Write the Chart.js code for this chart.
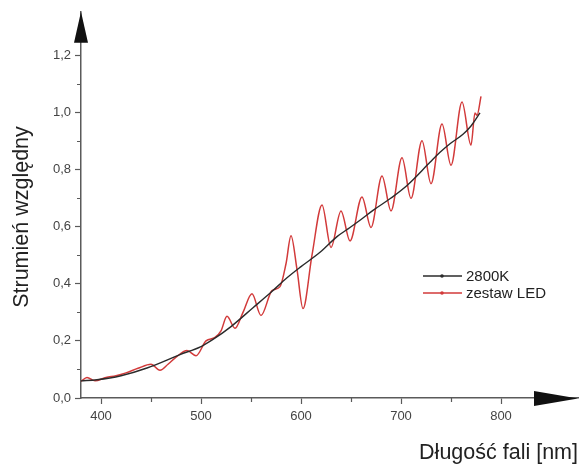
<!DOCTYPE html>
<html>
<head>
<meta charset="utf-8">
<script src="https://cdn.jsdelivr.net/npm/chart.js"></script>
<style>
  html, body { margin: 0; padding: 0; background: #fff; }
  #wrap { width: 580px; height: 466px; position: relative; }
</style>
</head>
<body>
<div id="wrap"><canvas id="chart"></canvas></div>
<script>
  // 2800K reference curve
  const blackNm   = [380, 396, 420, 446, 479, 500, 512, 530, 552, 570, 586, 600, 619, 636, 649, 660, 672, 690, 706, 729, 739, 749, 762, 770, 779];
  const blackFlux = [0.060, 0.064, 0.078, 0.105, 0.152, 0.180, 0.205, 0.250, 0.316, 0.370, 0.421, 0.460, 0.510, 0.565, 0.597, 0.625, 0.657, 0.700, 0.744, 0.825, 0.860, 0.890, 0.923, 0.952, 0.998];

  // LED set
  const ledNm   = [380, 386, 394, 405, 415, 425, 437, 450, 459, 467, 476, 486, 495, 505, 514, 520, 526, 534, 542, 551, 560, 571, 579, 585, 590, 596, 602, 611, 621, 630, 640, 649, 661, 670, 681, 690, 701, 710, 721, 730, 741, 750, 761, 770, 774, 776, 780];
  const ledFlux = [0.058, 0.072, 0.060, 0.072, 0.078, 0.088, 0.104, 0.118, 0.097, 0.118, 0.146, 0.166, 0.148, 0.200, 0.212, 0.235, 0.286, 0.244, 0.300, 0.365, 0.289, 0.376, 0.390, 0.470, 0.568, 0.450, 0.313, 0.500, 0.676, 0.527, 0.655, 0.550, 0.704, 0.597, 0.777, 0.655, 0.841, 0.699, 0.901, 0.750, 0.959, 0.815, 1.036, 0.885, 0.998, 0.990, 1.056];

  const xTicks = [400, 500, 600, 700, 800];
  const xMinor = [450, 550, 650, 750];
  const yTicks = [0, 0.2, 0.4, 0.6, 0.8, 1.0, 1.2];
  const yMinor = [0.1, 0.3, 0.5, 0.7, 0.9, 1.1];

  const seriesLabels = ['2800K', 'zestaw LED'];
  const AXIS = '#5a5a5a';
  const TICK_FONT = { family: 'Liberation Sans, Arial, sans-serif', size: 13 };

  const toPoints = (xs, ys) => xs.map((x, i) => ({ x: x, y: ys[i] }));

  const axisExtras = {
    id: 'axisExtras',
    afterDraw(chart) {
      const { ctx, chartArea: { left, right, top, bottom } } = chart;
      const xs = chart.scales.x, ys = chart.scales.y;
      ctx.save();
      // minor ticks
      ctx.strokeStyle = AXIS;
      ctx.lineWidth = 1.2;
      ctx.beginPath();
      xMinor.forEach(v => { const px = Math.round(xs.getPixelForValue(v)) + 0.5; ctx.moveTo(px, bottom); ctx.lineTo(px, bottom + 4); });
      yMinor.forEach(v => { const py = Math.round(ys.getPixelForValue(v)) + 0.5; ctx.moveTo(left, py); ctx.lineTo(left - 4, py); });
      ctx.stroke();
      // arrows
      ctx.fillStyle = '#111';
      ctx.beginPath();
      ctx.moveTo(right, bottom + 0.5); ctx.lineTo(right - 44, bottom - 7); ctx.lineTo(right - 44, bottom + 8); ctx.closePath();
      ctx.fill();
      ctx.beginPath();
      ctx.moveTo(left, top); ctx.lineTo(left - 7, top + 31); ctx.lineTo(left + 7, top + 31); ctx.closePath();
      ctx.fill();
      // y title
      ctx.fillStyle = '#222';
      ctx.font = '21.5px "Liberation Sans", Arial, sans-serif';
      ctx.textAlign = 'center';
      ctx.textBaseline = 'middle';
      ctx.translate(22, 217);
      ctx.rotate(-Math.PI / 2);
      ctx.fillText('Strumień względny', 0, 0);
      ctx.restore();

      // legend
      ctx.save();
      ctx.font = '15px "Liberation Sans", Arial, sans-serif';
      ctx.textBaseline = 'middle';
      ctx.textAlign = 'left';
      chart.data.datasets.forEach((ds, i) => {
        const y = 276 + i * 17;
        ctx.strokeStyle = ds.borderColor;
        ctx.lineWidth = 1.3;
        ctx.beginPath(); ctx.moveTo(423, y); ctx.lineTo(462, y); ctx.stroke();
        ctx.fillStyle = ds.borderColor;
        ctx.beginPath(); ctx.arc(442, y, 1.8, 0, Math.PI * 2); ctx.fill();
        ctx.fillStyle = '#222';
        ctx.fillText(ds.label, 466, y + 1);
      });
      ctx.restore();
    }
  };

  new Chart(document.getElementById('chart'), {
    type: 'line',
    data: {
      datasets: [
        { label: seriesLabels[0], data: toPoints(blackNm, blackFlux), borderColor: '#2b2b2b', borderWidth: 1.4, pointRadius: 0, cubicInterpolationMode: 'monotone' },
        { label: seriesLabels[1], data: toPoints(ledNm, ledFlux), borderColor: '#d23a3a', borderWidth: 1.5, pointRadius: 0, cubicInterpolationMode: 'monotone' }
      ]
    },
    options: {
      responsive: true, maintainAspectRatio: false, animation: false,
      layout: { padding: { top: 10, right: 2, left: 0, bottom: 0 } },
      plugins: { legend: { display: false }, tooltip: { enabled: false } },
      scales: {
        x: {
          type: 'linear', min: 380, max: 877,
          afterBuildTicks: s => { s.ticks = xTicks.map(v => ({ value: v })); },
          afterFit: s => { s.height = 68; },
          grid: { drawOnChartArea: false, tickLength: 6, tickColor: AXIS, tickWidth: 1.2 },
          border: { color: AXIS, width: 1.5 },
          ticks: { font: TICK_FONT, color: '#444', padding: 5, maxRotation: 0, autoSkip: false },
          title: { display: true, text: 'Długość fali [nm]', align: 'end', color: '#222',
                   font: { family: 'Liberation Sans, Arial, sans-serif', size: 21.5 }, padding: { top: 0, bottom: 0 } }
        },
        y: {
          type: 'linear', min: 0, max: 1.352,
          afterBuildTicks: s => { s.ticks = yTicks.map(v => ({ value: v })); },
          afterFit: s => { s.width = 81; },
          grid: { drawOnChartArea: false, tickLength: 6, tickColor: AXIS, tickWidth: 1.2 },
          border: { color: AXIS, width: 1.5 },
          ticks: { font: TICK_FONT, color: '#444', padding: 4, callback: v => v.toFixed(1).replace('.', ',') }
        }
      }
    },
    plugins: [axisExtras]
  });
</script>
</body>
</html>
